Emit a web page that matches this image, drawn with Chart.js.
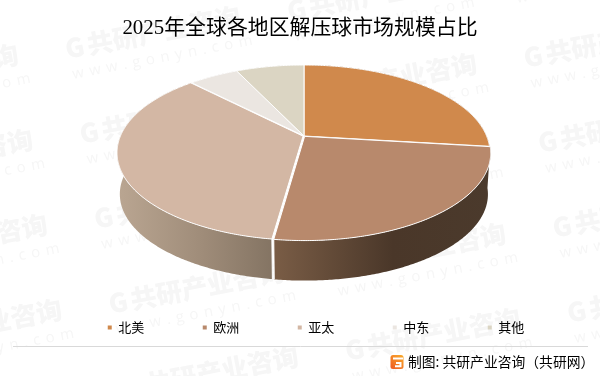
<!DOCTYPE html>
<html><head><meta charset="utf-8">
<style>html,body{margin:0;padding:0;background:#fff}canvas{display:block}</style>
<script src="https://cdn.jsdelivr.net/npm/chart.js@4"></script>
</head><body><canvas id="c" width="600" height="376"></canvas>
<script>
const categories = ['北美','欧洲','亚太','中东','其他'];
const shares = [26.9, 25.3, 35.5, 5.2, 7.1];
const faceColors = ['#d0894c','#b8896c','#d3b7a4','#ebe6e1','#dbd5c3'];
const wallStart = ['#4b3a2c','#7a5d46','#baa692','#c5c0bb','#b5b0a0'];
const wallMiddle = ['#4b3a2c','#4a3729','#9f8c79','#c5c0bb','#b5b0a0'];
const wallEnd = ['#4b3a2c','#4b3a2c','#847463','#c5c0bb','#b5b0a0'];
const sliceOffsets = [0, 1, 1, 0, 0];
const titleText = '2025年全球各地区解压球市场规模占比';
const sourceText = '制图: 共研产业咨询（共研网）';
const markName = '共研产业咨询';
const markSite = 'www.gonyn.com';

// Projection of the unit disc into the tilted view
const PIE = {cx:304, cy:136, A:84.4, B:182.6, k:0.1886, depth:41.6, shrink:0.985};
function project(x, y, lower){
  const w = 1 - PIE.k*y, s = lower ? PIE.shrink : 1;
  return [PIE.cx + s*PIE.B*x/w, PIE.cy + (lower?PIE.depth:0) + s*PIE.A*y/w];
}
function rim(a, e, ox, oy, lower){
  const pts = [], n = Math.max(2, Math.ceil((e-a)/0.01));
  for(let i=0;i<=n;i++){
    const t = a + (e-a)*i/n;
    pts.push(project(ox+Math.cos(t), oy+Math.sin(t), lower));
  }
  return pts;
}
function trace(ctx, pts){
  pts.forEach((p,i)=> i ? ctx.lineTo(p[0],p[1]) : ctx.moveTo(p[0],p[1]));
}
const pie3d = {
  id:'pie3d',
  beforeDatasetDraw(chart){
    const ctx = chart.ctx, els = chart.getDatasetMeta(0).data;
    const parts = els.map(el=>{
      const mid=(el.startAngle+el.endAngle)/2, off=(el.options.offset||0)/PIE.B;
      return {a:el.startAngle,e:el.endAngle,ox:off*Math.cos(mid),oy:off*Math.sin(mid),fill:el.options.backgroundColor};
    });
    ctx.save();
    parts.forEach((p,i)=>{
      const top = rim(p.a,p.e,p.ox,p.oy,false), bot = rim(p.a,p.e,p.ox,p.oy,true).reverse();
      const xs = top.concat(bot).map(q=>q[0]);
      const g = ctx.createLinearGradient(Math.min(...xs),0,Math.max(...xs),0);
      g.addColorStop(0,wallStart[i]); g.addColorStop(0.55,wallMiddle[i]); g.addColorStop(1,wallEnd[i]);
      ctx.beginPath(); trace(ctx,top); bot.forEach(q=>ctx.lineTo(q[0],q[1])); ctx.closePath();
      ctx.fillStyle=g; ctx.fill();
    });
    // white gap between the front walls
    parts.forEach(p=>{
      [p.a,p.e].forEach(t=>{
        const c=Math.cos(t), s=Math.sin(t);
        if(s<=0.4) return;
        const u=project(p.ox+c,p.oy+s,false), v=project(p.ox+c,p.oy+s,true);
        ctx.beginPath(); ctx.moveTo(u[0],u[1]); ctx.lineTo(v[0],v[1]);
        ctx.strokeStyle='#fff'; ctx.lineWidth=1; ctx.stroke();
      });
    });
    parts.forEach(p=>{
      const apex = project(p.ox,p.oy,false);
      ctx.beginPath(); ctx.moveTo(apex[0],apex[1]);
      rim(p.a,p.e,p.ox,p.oy,false).forEach(q=>ctx.lineTo(q[0],q[1]));
      ctx.closePath();
      ctx.fillStyle=p.fill; ctx.fill();
      ctx.strokeStyle='#fff'; ctx.lineWidth=1; ctx.lineJoin='round'; ctx.stroke();
    });
    ctx.restore();
    return false;
  }
};
const backdrop = {
  id:'backdrop',
  beforeDraw(chart){
    const ctx = chart.ctx;
    ctx.save();
    ctx.fillStyle='#fff'; ctx.fillRect(0,0,600,376);
    ctx.fillStyle='#f6f6f6';
    for(let i=-1;i<=3;i++) for(let j=-1;j<=5;j++){
      const x = 66+i*222+j*14.5, y = 52+i*-38+j*85;
      ctx.save(); ctx.translate(x,y); ctx.rotate(-0.19);
      ctx.textBaseline='alphabetic'; ctx.textAlign='left';
      ctx.font='900 26px "Noto Sans CJK SC"';
      ctx.fillText('G',0,7);
      ctx.fillText(markName,22,7);
      ctx.font='15px "Open Sans"';
      ctx.letterSpacing='5.6px';
      ctx.fillText(markSite,2,28);
      ctx.restore();
    }
    ctx.restore();
  },
  afterDraw(chart){
    const ctx = chart.ctx;
    ctx.save();
    ctx.strokeStyle='#d9d9d9'; ctx.lineWidth=1;
    ctx.beginPath(); ctx.moveTo(13,346.5); ctx.lineTo(588,346.5); ctx.stroke();
    const g = ctx.createLinearGradient(391,369,403,355);
    g.addColorStop(0,'#ee5a24'); g.addColorStop(1,'#f9ac2b');
    ctx.fillStyle=g;
    ctx.beginPath(); ctx.roundRect(390.5,355,13,14,2.5); ctx.fill();
    ctx.strokeStyle='#fff'; ctx.lineWidth=2;
    ctx.beginPath(); ctx.moveTo(393,358.5); ctx.lineTo(403,358.5); ctx.stroke();
    ctx.beginPath(); ctx.moveTo(396,363); ctx.lineTo(400.5,363); ctx.lineTo(400.5,366.2); ctx.lineTo(395,366.2); ctx.stroke();
    ctx.fillStyle='#000'; ctx.font='13.8px "Noto Sans CJK SC"';
    ctx.textBaseline='middle'; ctx.textAlign='left';
    ctx.fillText(sourceText,408,362);
    ctx.restore();
  }
};
const legendShift = {
  id:'legendShift',
  afterLayout(chart){ chart.legend.left += 16; chart.legend.right += 16; }
};
new Chart(document.getElementById('c'),{
  type:'pie',
  data:{labels:categories,datasets:[{data:shares,backgroundColor:faceColors,offset:sliceOffsets,borderWidth:0}]},
  plugins:[backdrop,pie3d,legendShift],
  options:{
    responsive:false, animation:false,
    layout:{padding:{bottom:32}},
    plugins:{
      tooltip:{enabled:false},
      title:{display:true,text:titleText,color:'#000',
        font:{family:'"Liberation Serif","Noto Sans CJK SC"',size:20.9,weight:'normal'},
        padding:{top:16,bottom:10}},
      legend:{position:'bottom',
        labels:{boxWidth:4,boxHeight:4,padding:58.5,color:'#000',
          font:{family:'"Noto Sans CJK SC"',size:13}}}
    }
  }
});
</script></body></html>
